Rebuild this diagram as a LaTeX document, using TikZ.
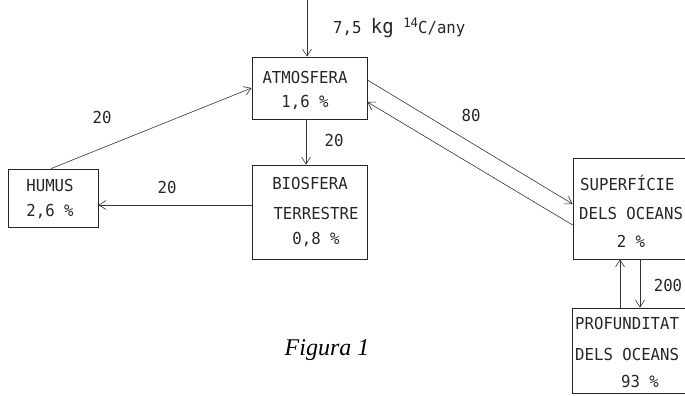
\documentclass[tikz,border=0pt]{standalone}
\usepackage{fontspec}
\usetikzlibrary{arrows.meta}
\newfontfamily\tw[FakeStretch=0.95]{DejaVu Sans Mono}
\newfontfamily\capfont{Liberation Serif}
\begin{document}
\begin{tikzpicture}[x=1pt,y=1pt,
  box/.style={draw=black!85,line width=0.8pt,rectangle,inner sep=0pt},
  arr/.style={draw=black!80,line width=0.6pt,-{Straight Barb[length=7pt,width=9pt]}},
  txt/.style={font=\tw\fontsize{16.5}{19}\selectfont,text=black!85,inner sep=0pt},
  lab/.style={font=\tw\fontsize{16.5}{19}\selectfont,text=black!85,inner sep=0pt}]
\useasboundingbox (0,0) rectangle (685,-396);
\clip (0,0) rectangle (685,-396);
% boxes
\node[box,minimum width=115pt,minimum height=62pt] (atm) at (309.5,-88) {};
\node[box,minimum width=115pt,minimum height=94pt] (bio) at (309.5,-212) {};
\node[box,minimum width=90pt,minimum height=58pt] (hum) at (53,-198) {};
\node[box,minimum width=125pt,minimum height=101pt] (sup) at (635.5,-208.5) {};
\node[box,minimum width=125pt,minimum height=85pt] (prof) at (634.5,-350.5) {};
% texts in boxes
\node[txt] (tatm1) at (305,-77) {ATMOSFERA};
\node[txt] (tatm2) at (305,-103) {1,6 \%};
\node[txt] (tbio1) at (310,-183) {BIOSFERA};
\node[txt] (tbio2) at (316,-213) {TERRESTRE};
\node[txt] (tbio3) at (316,-240) {0,8 \%};
\node[txt] (thum1) at (50,-185) {HUMUS};
\node[txt] (thum2) at (50,-212) {2,6 \%};
\node[txt,anchor=west] (tsup1) at (580,-183) {SUPERFÍCIE};
\node[txt,anchor=west] (tsup2) at (579,-213) {DELS OCEANS};
\node[txt] (tsup3) at (631,-241) {2 \%};
\node[txt,anchor=west] (tprof1) at (575,-323) {PROFUNDITAT};
\node[txt,anchor=west] (tprof2) at (575,-354) {DELS OCEANS};
\node[txt] (tprof3) at (640,-381) {93 \%};
% top input
\coordinate (src) at (307,0);
\draw[arr] (src) -- (src |- atm.north);
\node[lab,anchor=west] (tin) at (333,-28) {7,5 {\fontsize{20}{22}\selectfont kg} \raisebox{6pt}{\fontsize{13}{15}\selectfont 14}C/any};
% connectors
\draw[arr] ([xshift=-3.5pt]atm.south) -- ([xshift=-3.5pt]bio.north);
\node[lab] (l1) at (334,-140) {20};
\draw[arr] ([yshift=7pt]bio.west) -- ([yshift=-7pt]hum.east);
\node[lab] (l2) at (167,-187) {20};
\draw[arr] ([xshift=-2pt]hum.north) -- (atm.west);
\node[lab] (l3) at (102,-117) {20};
\draw[arr] ([yshift=8pt]atm.east) -- ([yshift=4.5pt]sup.west);
\draw[arr] ([yshift=-16.5pt]sup.west) -- ([yshift=-14pt]atm.east);
\node[lab] (l4) at (471,-115) {80};
\draw[arr] ([xshift=4.5pt]sup.south) -- ([xshift=5.5pt]prof.north);
\draw[arr] ([xshift=-14.5pt]prof.north) -- ([xshift=-15.5pt]sup.south);
\node[lab] (l5) at (668,-285) {200};
% caption
\node[font=\capfont\itshape\fontsize{24}{28}\selectfont,inner sep=0pt] (cap) at (327,-350) {Figura 1};
\end{tikzpicture}
\end{document}
